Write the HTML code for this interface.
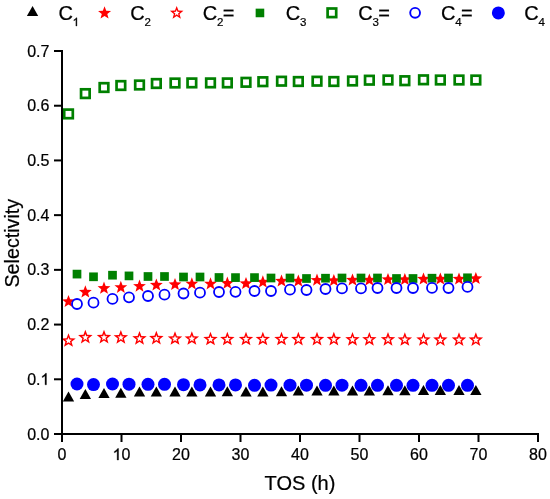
<!DOCTYPE html>
<html><head><meta charset="utf-8"><style>
html,body{margin:0;padding:0;background:#fff;}
body{width:550px;height:499px;overflow:hidden;}
svg{display:block;will-change:transform;}
text{font-family:"Liberation Sans",sans-serif;fill:#000;stroke:#000;stroke-width:0.22px;}
.tk{font-size:16px;}
.lb{font-size:20px;}
.lg{font-size:20px;}
.sb{font-size:12px;}
</style></head><body>
<svg width="550" height="499" viewBox="0 0 550 499">
<rect width="550" height="499" fill="#fff"/>
<polygon points="62.85,401.6 74.15,401.6 68.5,391.6" fill="#000000"/>
<polygon points="79.7,398.9 91,398.9 85.35,388.9" fill="#000000"/>
<polygon points="98.35,398 109.65,398 104,388" fill="#000000"/>
<polygon points="115.2,397.7 126.5,397.7 120.85,387.7" fill="#000000"/>
<polygon points="133.85,396.6 145.15,396.6 139.5,386.6" fill="#000000"/>
<polygon points="150.7,396.6 162,396.6 156.35,386.6" fill="#000000"/>
<polygon points="169.35,396.6 180.65,396.6 175,386.6" fill="#000000"/>
<polygon points="186.2,396.6 197.5,396.6 191.85,386.6" fill="#000000"/>
<polygon points="204.85,396.5 216.15,396.5 210.5,386.5" fill="#000000"/>
<polygon points="221.7,396.3 233,396.3 227.35,386.3" fill="#000000"/>
<polygon points="240.35,396.4 251.65,396.4 246,386.4" fill="#000000"/>
<polygon points="257.2,396.5 268.5,396.5 262.85,386.5" fill="#000000"/>
<polygon points="275.85,396.2 287.15,396.2 281.5,386.2" fill="#000000"/>
<polygon points="292.7,395.6 304,395.6 298.35,385.6" fill="#000000"/>
<polygon points="311.35,395.6 322.65,395.6 317,385.6" fill="#000000"/>
<polygon points="328.2,395.6 339.5,395.6 333.85,385.6" fill="#000000"/>
<polygon points="346.85,395.5 358.15,395.5 352.5,385.5" fill="#000000"/>
<polygon points="363.7,395.5 375,395.5 369.35,385.5" fill="#000000"/>
<polygon points="382.35,395.3 393.65,395.3 388,385.3" fill="#000000"/>
<polygon points="399.2,395.2 410.5,395.2 404.85,385.2" fill="#000000"/>
<polygon points="417.85,395 429.15,395 423.5,385" fill="#000000"/>
<polygon points="434.7,395 446,395 440.35,385" fill="#000000"/>
<polygon points="453.35,395 464.65,395 459,385" fill="#000000"/>
<polygon points="470.2,395 481.5,395 475.85,385" fill="#000000"/>
<polygon points="68.5,294.89 70.17,299.35 74.92,299.56 71.2,302.52 72.47,307.11 68.5,304.48 64.53,307.11 65.8,302.52 62.08,299.56 66.83,299.35" fill="#ff0000"/>
<polygon points="85.35,285.29 87.02,289.75 91.77,289.96 88.05,292.92 89.32,297.51 85.35,294.88 81.38,297.51 82.65,292.92 78.93,289.96 83.68,289.75" fill="#ff0000"/>
<polygon points="104,281.59 105.67,286.05 110.42,286.26 106.7,289.22 107.97,293.81 104,291.18 100.03,293.81 101.3,289.22 97.58,286.26 102.33,286.05" fill="#ff0000"/>
<polygon points="120.85,280.69 122.52,285.15 127.27,285.36 123.55,288.32 124.82,292.91 120.85,290.28 116.88,292.91 118.15,288.32 114.43,285.36 119.18,285.15" fill="#ff0000"/>
<polygon points="139.5,279.49 141.17,283.95 145.92,284.16 142.2,287.12 143.47,291.71 139.5,289.08 135.53,291.71 136.8,287.12 133.08,284.16 137.83,283.95" fill="#ff0000"/>
<polygon points="156.35,278.39 158.02,282.85 162.77,283.06 159.05,286.02 160.32,290.61 156.35,287.98 152.38,290.61 153.65,286.02 149.93,283.06 154.68,282.85" fill="#ff0000"/>
<polygon points="175,277.89 176.67,282.35 181.42,282.56 177.7,285.52 178.97,290.11 175,287.48 171.03,290.11 172.3,285.52 168.58,282.56 173.33,282.35" fill="#ff0000"/>
<polygon points="191.85,277.19 193.52,281.65 198.27,281.86 194.55,284.82 195.82,289.41 191.85,286.78 187.88,289.41 189.15,284.82 185.43,281.86 190.18,281.65" fill="#ff0000"/>
<polygon points="210.5,277.19 212.17,281.65 216.92,281.86 213.2,284.82 214.47,289.41 210.5,286.78 206.53,289.41 207.8,284.82 204.08,281.86 208.83,281.65" fill="#ff0000"/>
<polygon points="227.35,276.59 229.02,281.05 233.77,281.26 230.05,284.22 231.32,288.81 227.35,286.18 223.38,288.81 224.65,284.22 220.93,281.26 225.68,281.05" fill="#ff0000"/>
<polygon points="246,276.89 247.67,281.35 252.42,281.56 248.7,284.52 249.97,289.11 246,286.48 242.03,289.11 243.3,284.52 239.58,281.56 244.33,281.35" fill="#ff0000"/>
<polygon points="262.85,275.29 264.52,279.75 269.27,279.96 265.55,282.92 266.82,287.51 262.85,284.88 258.88,287.51 260.15,282.92 256.43,279.96 261.18,279.75" fill="#ff0000"/>
<polygon points="281.5,274.39 283.17,278.85 287.92,279.06 284.2,282.02 285.47,286.61 281.5,283.98 277.53,286.61 278.8,282.02 275.08,279.06 279.83,278.85" fill="#ff0000"/>
<polygon points="298.35,274.39 300.02,278.85 304.77,279.06 301.05,282.02 302.32,286.61 298.35,283.98 294.38,286.61 295.65,282.02 291.93,279.06 296.68,278.85" fill="#ff0000"/>
<polygon points="317,273.49 318.67,277.95 323.42,278.16 319.7,281.12 320.97,285.71 317,283.08 313.03,285.71 314.3,281.12 310.58,278.16 315.33,277.95" fill="#ff0000"/>
<polygon points="333.85,273.89 335.52,278.35 340.27,278.56 336.55,281.52 337.82,286.11 333.85,283.48 329.88,286.11 331.15,281.52 327.43,278.56 332.18,278.35" fill="#ff0000"/>
<polygon points="352.5,273.39 354.17,277.85 358.92,278.06 355.2,281.02 356.47,285.61 352.5,282.98 348.53,285.61 349.8,281.02 346.08,278.06 350.83,277.85" fill="#ff0000"/>
<polygon points="369.35,273.39 371.02,277.85 375.77,278.06 372.05,281.02 373.32,285.61 369.35,282.98 365.38,285.61 366.65,281.02 362.93,278.06 367.68,277.85" fill="#ff0000"/>
<polygon points="388,272.89 389.67,277.35 394.42,277.56 390.7,280.52 391.97,285.11 388,282.48 384.03,285.11 385.3,280.52 381.58,277.56 386.33,277.35" fill="#ff0000"/>
<polygon points="404.85,272.89 406.52,277.35 411.27,277.56 407.55,280.52 408.82,285.11 404.85,282.48 400.88,285.11 402.15,280.52 398.43,277.56 403.18,277.35" fill="#ff0000"/>
<polygon points="423.5,272.39 425.17,276.85 429.92,277.06 426.2,280.02 427.47,284.61 423.5,281.98 419.53,284.61 420.8,280.02 417.08,277.06 421.83,276.85" fill="#ff0000"/>
<polygon points="440.35,272.39 442.02,276.85 446.77,277.06 443.05,280.02 444.32,284.61 440.35,281.98 436.38,284.61 437.65,280.02 433.93,277.06 438.68,276.85" fill="#ff0000"/>
<polygon points="459,272.39 460.67,276.85 465.42,277.06 461.7,280.02 462.97,284.61 459,281.98 455.03,284.61 456.3,280.02 452.58,277.06 457.33,276.85" fill="#ff0000"/>
<polygon points="475.85,271.89 477.52,276.35 482.27,276.56 478.55,279.52 479.82,284.11 475.85,281.48 471.88,284.11 473.15,279.52 469.43,276.56 474.18,276.35" fill="#ff0000"/>
<path d="M68.5,333.13 L70.38,338.14 L75.73,338.38 L71.54,341.71 L72.97,346.87 L68.5,343.92 L64.03,346.87 L65.46,341.71 L61.27,338.38 L66.62,338.14ZM68.5,337.23 L69.36,339.54 L71.83,339.64 L69.9,341.18 L70.56,343.56 L68.5,342.2 L66.44,343.56 L67.1,341.18 L65.17,339.64 L67.64,339.54Z" fill="#ff0000" fill-rule="evenodd"/>
<path d="M85.35,329.83 L87.23,334.84 L92.58,335.08 L88.39,338.41 L89.82,343.57 L85.35,340.62 L80.88,343.57 L82.31,338.41 L78.12,335.08 L83.47,334.84ZM85.35,333.93 L86.21,336.24 L88.68,336.34 L86.75,337.88 L87.41,340.26 L85.35,338.9 L83.29,340.26 L83.95,337.88 L82.02,336.34 L84.49,336.24Z" fill="#ff0000" fill-rule="evenodd"/>
<path d="M104,329.83 L105.88,334.84 L111.23,335.08 L107.04,338.41 L108.47,343.57 L104,340.62 L99.53,343.57 L100.96,338.41 L96.77,335.08 L102.12,334.84ZM104,333.93 L104.86,336.24 L107.33,336.34 L105.4,337.88 L106.06,340.26 L104,338.9 L101.94,340.26 L102.6,337.88 L100.67,336.34 L103.14,336.24Z" fill="#ff0000" fill-rule="evenodd"/>
<path d="M120.85,330.03 L122.73,335.04 L128.08,335.28 L123.89,338.61 L125.32,343.77 L120.85,340.82 L116.38,343.77 L117.81,338.61 L113.62,335.28 L118.97,335.04ZM120.85,334.13 L121.71,336.44 L124.18,336.54 L122.25,338.08 L122.91,340.46 L120.85,339.1 L118.79,340.46 L119.45,338.08 L117.52,336.54 L119.99,336.44Z" fill="#ff0000" fill-rule="evenodd"/>
<path d="M139.5,331.03 L141.38,336.04 L146.73,336.28 L142.54,339.61 L143.97,344.77 L139.5,341.82 L135.03,344.77 L136.46,339.61 L132.27,336.28 L137.62,336.04ZM139.5,335.13 L140.36,337.44 L142.83,337.54 L140.9,339.08 L141.56,341.46 L139.5,340.1 L137.44,341.46 L138.1,339.08 L136.17,337.54 L138.64,337.44Z" fill="#ff0000" fill-rule="evenodd"/>
<path d="M156.35,330.83 L158.23,335.84 L163.58,336.08 L159.39,339.41 L160.82,344.57 L156.35,341.62 L151.88,344.57 L153.31,339.41 L149.12,336.08 L154.47,335.84ZM156.35,334.93 L157.21,337.24 L159.68,337.34 L157.75,338.88 L158.41,341.26 L156.35,339.9 L154.29,341.26 L154.95,338.88 L153.02,337.34 L155.49,337.24Z" fill="#ff0000" fill-rule="evenodd"/>
<path d="M175,331.13 L176.88,336.14 L182.23,336.38 L178.04,339.71 L179.47,344.87 L175,341.92 L170.53,344.87 L171.96,339.71 L167.77,336.38 L173.12,336.14ZM175,335.23 L175.86,337.54 L178.33,337.64 L176.4,339.18 L177.06,341.56 L175,340.2 L172.94,341.56 L173.6,339.18 L171.67,337.64 L174.14,337.54Z" fill="#ff0000" fill-rule="evenodd"/>
<path d="M191.85,331.13 L193.73,336.14 L199.08,336.38 L194.89,339.71 L196.32,344.87 L191.85,341.92 L187.38,344.87 L188.81,339.71 L184.62,336.38 L189.97,336.14ZM191.85,335.23 L192.71,337.54 L195.18,337.64 L193.25,339.18 L193.91,341.56 L191.85,340.2 L189.79,341.56 L190.45,339.18 L188.52,337.64 L190.99,337.54Z" fill="#ff0000" fill-rule="evenodd"/>
<path d="M210.5,331.63 L212.38,336.64 L217.73,336.88 L213.54,340.21 L214.97,345.37 L210.5,342.42 L206.03,345.37 L207.46,340.21 L203.27,336.88 L208.62,336.64ZM210.5,335.73 L211.36,338.04 L213.83,338.14 L211.9,339.68 L212.56,342.06 L210.5,340.7 L208.44,342.06 L209.1,339.68 L207.17,338.14 L209.64,338.04Z" fill="#ff0000" fill-rule="evenodd"/>
<path d="M227.35,331.63 L229.23,336.64 L234.58,336.88 L230.39,340.21 L231.82,345.37 L227.35,342.42 L222.88,345.37 L224.31,340.21 L220.12,336.88 L225.47,336.64ZM227.35,335.73 L228.21,338.04 L230.68,338.14 L228.75,339.68 L229.41,342.06 L227.35,340.7 L225.29,342.06 L225.95,339.68 L224.02,338.14 L226.49,338.04Z" fill="#ff0000" fill-rule="evenodd"/>
<path d="M246,331.63 L247.88,336.64 L253.23,336.88 L249.04,340.21 L250.47,345.37 L246,342.42 L241.53,345.37 L242.96,340.21 L238.77,336.88 L244.12,336.64ZM246,335.73 L246.86,338.04 L249.33,338.14 L247.4,339.68 L248.06,342.06 L246,340.7 L243.94,342.06 L244.6,339.68 L242.67,338.14 L245.14,338.04Z" fill="#ff0000" fill-rule="evenodd"/>
<path d="M262.85,331.63 L264.73,336.64 L270.08,336.88 L265.89,340.21 L267.32,345.37 L262.85,342.42 L258.38,345.37 L259.81,340.21 L255.62,336.88 L260.97,336.64ZM262.85,335.73 L263.71,338.04 L266.18,338.14 L264.25,339.68 L264.91,342.06 L262.85,340.7 L260.79,342.06 L261.45,339.68 L259.52,338.14 L261.99,338.04Z" fill="#ff0000" fill-rule="evenodd"/>
<path d="M281.5,331.63 L283.38,336.64 L288.73,336.88 L284.54,340.21 L285.97,345.37 L281.5,342.42 L277.03,345.37 L278.46,340.21 L274.27,336.88 L279.62,336.64ZM281.5,335.73 L282.36,338.04 L284.83,338.14 L282.9,339.68 L283.56,342.06 L281.5,340.7 L279.44,342.06 L280.1,339.68 L278.17,338.14 L280.64,338.04Z" fill="#ff0000" fill-rule="evenodd"/>
<path d="M298.35,331.83 L300.23,336.84 L305.58,337.08 L301.39,340.41 L302.82,345.57 L298.35,342.62 L293.88,345.57 L295.31,340.41 L291.12,337.08 L296.47,336.84ZM298.35,335.93 L299.21,338.24 L301.68,338.34 L299.75,339.88 L300.41,342.26 L298.35,340.9 L296.29,342.26 L296.95,339.88 L295.02,338.34 L297.49,338.24Z" fill="#ff0000" fill-rule="evenodd"/>
<path d="M317,331.83 L318.88,336.84 L324.23,337.08 L320.04,340.41 L321.47,345.57 L317,342.62 L312.53,345.57 L313.96,340.41 L309.77,337.08 L315.12,336.84ZM317,335.93 L317.86,338.24 L320.33,338.34 L318.4,339.88 L319.06,342.26 L317,340.9 L314.94,342.26 L315.6,339.88 L313.67,338.34 L316.14,338.24Z" fill="#ff0000" fill-rule="evenodd"/>
<path d="M333.85,331.83 L335.73,336.84 L341.08,337.08 L336.89,340.41 L338.32,345.57 L333.85,342.62 L329.38,345.57 L330.81,340.41 L326.62,337.08 L331.97,336.84ZM333.85,335.93 L334.71,338.24 L337.18,338.34 L335.25,339.88 L335.91,342.26 L333.85,340.9 L331.79,342.26 L332.45,339.88 L330.52,338.34 L332.99,338.24Z" fill="#ff0000" fill-rule="evenodd"/>
<path d="M352.5,331.93 L354.38,336.94 L359.73,337.18 L355.54,340.51 L356.97,345.67 L352.5,342.72 L348.03,345.67 L349.46,340.51 L345.27,337.18 L350.62,336.94ZM352.5,336.03 L353.36,338.34 L355.83,338.44 L353.9,339.98 L354.56,342.36 L352.5,341 L350.44,342.36 L351.1,339.98 L349.17,338.44 L351.64,338.34Z" fill="#ff0000" fill-rule="evenodd"/>
<path d="M369.35,331.93 L371.23,336.94 L376.58,337.18 L372.39,340.51 L373.82,345.67 L369.35,342.72 L364.88,345.67 L366.31,340.51 L362.12,337.18 L367.47,336.94ZM369.35,336.03 L370.21,338.34 L372.68,338.44 L370.75,339.98 L371.41,342.36 L369.35,341 L367.29,342.36 L367.95,339.98 L366.02,338.44 L368.49,338.34Z" fill="#ff0000" fill-rule="evenodd"/>
<path d="M388,332.03 L389.88,337.04 L395.23,337.28 L391.04,340.61 L392.47,345.77 L388,342.82 L383.53,345.77 L384.96,340.61 L380.77,337.28 L386.12,337.04ZM388,336.13 L388.86,338.44 L391.33,338.54 L389.4,340.08 L390.06,342.46 L388,341.1 L385.94,342.46 L386.6,340.08 L384.67,338.54 L387.14,338.44Z" fill="#ff0000" fill-rule="evenodd"/>
<path d="M404.85,332.13 L406.73,337.14 L412.08,337.38 L407.89,340.71 L409.32,345.87 L404.85,342.92 L400.38,345.87 L401.81,340.71 L397.62,337.38 L402.97,337.14ZM404.85,336.23 L405.71,338.54 L408.18,338.64 L406.25,340.18 L406.91,342.56 L404.85,341.2 L402.79,342.56 L403.45,340.18 L401.52,338.64 L403.99,338.54Z" fill="#ff0000" fill-rule="evenodd"/>
<path d="M423.5,332.13 L425.38,337.14 L430.73,337.38 L426.54,340.71 L427.97,345.87 L423.5,342.92 L419.03,345.87 L420.46,340.71 L416.27,337.38 L421.62,337.14ZM423.5,336.23 L424.36,338.54 L426.83,338.64 L424.9,340.18 L425.56,342.56 L423.5,341.2 L421.44,342.56 L422.1,340.18 L420.17,338.64 L422.64,338.54Z" fill="#ff0000" fill-rule="evenodd"/>
<path d="M440.35,332.33 L442.23,337.34 L447.58,337.58 L443.39,340.91 L444.82,346.07 L440.35,343.12 L435.88,346.07 L437.31,340.91 L433.12,337.58 L438.47,337.34ZM440.35,336.43 L441.21,338.74 L443.68,338.84 L441.75,340.38 L442.41,342.76 L440.35,341.4 L438.29,342.76 L438.95,340.38 L437.02,338.84 L439.49,338.74Z" fill="#ff0000" fill-rule="evenodd"/>
<path d="M459,332.33 L460.88,337.34 L466.23,337.58 L462.04,340.91 L463.47,346.07 L459,343.12 L454.53,346.07 L455.96,340.91 L451.77,337.58 L457.12,337.34ZM459,336.43 L459.86,338.74 L462.33,338.84 L460.4,340.38 L461.06,342.76 L459,341.4 L456.94,342.76 L457.6,340.38 L455.67,338.84 L458.14,338.74Z" fill="#ff0000" fill-rule="evenodd"/>
<path d="M475.85,332.33 L477.73,337.34 L483.08,337.58 L478.89,340.91 L480.32,346.07 L475.85,343.12 L471.38,346.07 L472.81,340.91 L468.62,337.58 L473.97,337.34ZM475.85,336.43 L476.71,338.74 L479.18,338.84 L477.25,340.38 L477.91,342.76 L475.85,341.4 L473.79,342.76 L474.45,340.38 L472.52,338.84 L474.99,338.74Z" fill="#ff0000" fill-rule="evenodd"/>
<rect x="72.65" y="269.75" width="8.7" height="8.7" fill="#008000"/>
<rect x="89.15" y="272.45" width="8.7" height="8.7" fill="#008000"/>
<rect x="108.15" y="270.85" width="8.7" height="8.7" fill="#008000"/>
<rect x="124.65" y="271.55" width="8.7" height="8.7" fill="#008000"/>
<rect x="143.65" y="272.15" width="8.7" height="8.7" fill="#008000"/>
<rect x="160.15" y="272.15" width="8.7" height="8.7" fill="#008000"/>
<rect x="179.15" y="272.65" width="8.7" height="8.7" fill="#008000"/>
<rect x="195.65" y="272.65" width="8.7" height="8.7" fill="#008000"/>
<rect x="214.65" y="273.15" width="8.7" height="8.7" fill="#008000"/>
<rect x="231.15" y="273.25" width="8.7" height="8.7" fill="#008000"/>
<rect x="250.15" y="273.25" width="8.7" height="8.7" fill="#008000"/>
<rect x="266.65" y="273.65" width="8.7" height="8.7" fill="#008000"/>
<rect x="285.65" y="273.65" width="8.7" height="8.7" fill="#008000"/>
<rect x="302.15" y="274.15" width="8.7" height="8.7" fill="#008000"/>
<rect x="321.15" y="273.85" width="8.7" height="8.7" fill="#008000"/>
<rect x="337.65" y="273.65" width="8.7" height="8.7" fill="#008000"/>
<rect x="356.65" y="273.65" width="8.7" height="8.7" fill="#008000"/>
<rect x="373.15" y="273.65" width="8.7" height="8.7" fill="#008000"/>
<rect x="392.15" y="274.15" width="8.7" height="8.7" fill="#008000"/>
<rect x="408.65" y="274.15" width="8.7" height="8.7" fill="#008000"/>
<rect x="427.65" y="273.85" width="8.7" height="8.7" fill="#008000"/>
<rect x="444.15" y="273.65" width="8.7" height="8.7" fill="#008000"/>
<rect x="463.15" y="273.45" width="8.7" height="8.7" fill="#008000"/>
<rect x="64.2" y="109.6" width="8.6" height="8.6" fill="none" stroke="#008000" stroke-width="2.7"/>
<rect x="81.05" y="89.3" width="8.6" height="8.6" fill="none" stroke="#008000" stroke-width="2.7"/>
<rect x="99.7" y="83.2" width="8.6" height="8.6" fill="none" stroke="#008000" stroke-width="2.7"/>
<rect x="116.55" y="81.2" width="8.6" height="8.6" fill="none" stroke="#008000" stroke-width="2.7"/>
<rect x="135.2" y="80.7" width="8.6" height="8.6" fill="none" stroke="#008000" stroke-width="2.7"/>
<rect x="152.05" y="79.2" width="8.6" height="8.6" fill="none" stroke="#008000" stroke-width="2.7"/>
<rect x="170.7" y="78.7" width="8.6" height="8.6" fill="none" stroke="#008000" stroke-width="2.7"/>
<rect x="187.55" y="78.6" width="8.6" height="8.6" fill="none" stroke="#008000" stroke-width="2.7"/>
<rect x="206.2" y="78.6" width="8.6" height="8.6" fill="none" stroke="#008000" stroke-width="2.7"/>
<rect x="223.05" y="78.6" width="8.6" height="8.6" fill="none" stroke="#008000" stroke-width="2.7"/>
<rect x="241.7" y="78" width="8.6" height="8.6" fill="none" stroke="#008000" stroke-width="2.7"/>
<rect x="258.55" y="77.4" width="8.6" height="8.6" fill="none" stroke="#008000" stroke-width="2.7"/>
<rect x="277.2" y="76.9" width="8.6" height="8.6" fill="none" stroke="#008000" stroke-width="2.7"/>
<rect x="294.05" y="77.2" width="8.6" height="8.6" fill="none" stroke="#008000" stroke-width="2.7"/>
<rect x="312.7" y="76.9" width="8.6" height="8.6" fill="none" stroke="#008000" stroke-width="2.7"/>
<rect x="329.55" y="77.2" width="8.6" height="8.6" fill="none" stroke="#008000" stroke-width="2.7"/>
<rect x="348.2" y="76.7" width="8.6" height="8.6" fill="none" stroke="#008000" stroke-width="2.7"/>
<rect x="365.05" y="75.9" width="8.6" height="8.6" fill="none" stroke="#008000" stroke-width="2.7"/>
<rect x="383.7" y="75.7" width="8.6" height="8.6" fill="none" stroke="#008000" stroke-width="2.7"/>
<rect x="400.55" y="76.4" width="8.6" height="8.6" fill="none" stroke="#008000" stroke-width="2.7"/>
<rect x="419.2" y="75.5" width="8.6" height="8.6" fill="none" stroke="#008000" stroke-width="2.7"/>
<rect x="436.05" y="75.7" width="8.6" height="8.6" fill="none" stroke="#008000" stroke-width="2.7"/>
<rect x="454.7" y="75.7" width="8.6" height="8.6" fill="none" stroke="#008000" stroke-width="2.7"/>
<rect x="471.55" y="75.7" width="8.6" height="8.6" fill="none" stroke="#008000" stroke-width="2.7"/>
<circle cx="77" cy="304" r="5" fill="none" stroke="#0000ff" stroke-width="1.8"/>
<circle cx="93.5" cy="302.7" r="5" fill="none" stroke="#0000ff" stroke-width="1.8"/>
<circle cx="112.5" cy="298.9" r="5" fill="none" stroke="#0000ff" stroke-width="1.8"/>
<circle cx="129" cy="297.3" r="5" fill="none" stroke="#0000ff" stroke-width="1.8"/>
<circle cx="148" cy="296" r="5" fill="none" stroke="#0000ff" stroke-width="1.8"/>
<circle cx="164.5" cy="294.7" r="5" fill="none" stroke="#0000ff" stroke-width="1.8"/>
<circle cx="183.5" cy="293.5" r="5" fill="none" stroke="#0000ff" stroke-width="1.8"/>
<circle cx="200" cy="292.7" r="5" fill="none" stroke="#0000ff" stroke-width="1.8"/>
<circle cx="219" cy="292" r="5" fill="none" stroke="#0000ff" stroke-width="1.8"/>
<circle cx="235.5" cy="291.8" r="5" fill="none" stroke="#0000ff" stroke-width="1.8"/>
<circle cx="254.5" cy="291" r="5" fill="none" stroke="#0000ff" stroke-width="1.8"/>
<circle cx="271" cy="291" r="5" fill="none" stroke="#0000ff" stroke-width="1.8"/>
<circle cx="290" cy="289.7" r="5" fill="none" stroke="#0000ff" stroke-width="1.8"/>
<circle cx="306.5" cy="290" r="5" fill="none" stroke="#0000ff" stroke-width="1.8"/>
<circle cx="325.5" cy="289" r="5" fill="none" stroke="#0000ff" stroke-width="1.8"/>
<circle cx="342" cy="288.4" r="5" fill="none" stroke="#0000ff" stroke-width="1.8"/>
<circle cx="361" cy="288.4" r="5" fill="none" stroke="#0000ff" stroke-width="1.8"/>
<circle cx="377.5" cy="288" r="5" fill="none" stroke="#0000ff" stroke-width="1.8"/>
<circle cx="396.5" cy="288" r="5" fill="none" stroke="#0000ff" stroke-width="1.8"/>
<circle cx="413" cy="288" r="5" fill="none" stroke="#0000ff" stroke-width="1.8"/>
<circle cx="432" cy="287.9" r="5" fill="none" stroke="#0000ff" stroke-width="1.8"/>
<circle cx="448.5" cy="288" r="5" fill="none" stroke="#0000ff" stroke-width="1.8"/>
<circle cx="467.5" cy="286.9" r="5" fill="none" stroke="#0000ff" stroke-width="1.8"/>
<circle cx="77" cy="384" r="6.5" fill="#0000ff"/>
<circle cx="93.5" cy="384.6" r="6.5" fill="#0000ff"/>
<circle cx="112.5" cy="384" r="6.5" fill="#0000ff"/>
<circle cx="129" cy="384.2" r="6.5" fill="#0000ff"/>
<circle cx="148" cy="384.3" r="6.5" fill="#0000ff"/>
<circle cx="164.5" cy="384.3" r="6.5" fill="#0000ff"/>
<circle cx="183.5" cy="384.7" r="6.5" fill="#0000ff"/>
<circle cx="200" cy="384.9" r="6.5" fill="#0000ff"/>
<circle cx="219" cy="384.9" r="6.5" fill="#0000ff"/>
<circle cx="235.5" cy="384.9" r="6.5" fill="#0000ff"/>
<circle cx="254.5" cy="385.3" r="6.5" fill="#0000ff"/>
<circle cx="271" cy="385.1" r="6.5" fill="#0000ff"/>
<circle cx="290" cy="385.2" r="6.5" fill="#0000ff"/>
<circle cx="306.5" cy="385.2" r="6.5" fill="#0000ff"/>
<circle cx="325.5" cy="385.3" r="6.5" fill="#0000ff"/>
<circle cx="342" cy="385.2" r="6.5" fill="#0000ff"/>
<circle cx="361" cy="385.3" r="6.5" fill="#0000ff"/>
<circle cx="377.5" cy="385.3" r="6.5" fill="#0000ff"/>
<circle cx="396.5" cy="385.3" r="6.5" fill="#0000ff"/>
<circle cx="413" cy="385.3" r="6.5" fill="#0000ff"/>
<circle cx="432" cy="385.3" r="6.5" fill="#0000ff"/>
<circle cx="448.5" cy="385.3" r="6.5" fill="#0000ff"/>
<circle cx="467.5" cy="385.3" r="6.5" fill="#0000ff"/>
<rect x="61" y="50" width="2" height="385" fill="#000"/>
<rect x="61" y="433" width="478" height="2" fill="#000"/>
<rect x="54" y="433" width="8" height="2" fill="#000"/>
<text x="27.16" y="439.5" style="font-size:16px">0.0</text>
<rect x="54" y="378.29" width="8" height="2" fill="#000"/>
<text x="27.16" y="384.79" style="font-size:16px">0.</text>
<path d="M763 0H583V1147Q518 1085 412.5 1023Q307 961 223 930V1104Q374 1175 487 1276Q600 1377 647 1472H763Z" transform="translate(40.5 384.79) scale(0.0078 -0.0078)" fill="#000" stroke="#000" stroke-width="0.35" vector-effect="non-scaling-stroke"/>
<rect x="54" y="323.57" width="8" height="2" fill="#000"/>
<text x="27.16" y="330.07" style="font-size:16px">0.2</text>
<rect x="54" y="268.86" width="8" height="2" fill="#000"/>
<text x="27.16" y="275.36" style="font-size:16px">0.3</text>
<rect x="54" y="214.14" width="8" height="2" fill="#000"/>
<text x="27.16" y="220.64" style="font-size:16px">0.4</text>
<rect x="54" y="159.43" width="8" height="2" fill="#000"/>
<text x="27.16" y="165.93" style="font-size:16px">0.5</text>
<rect x="54" y="104.72" width="8" height="2" fill="#000"/>
<text x="27.16" y="111.22" style="font-size:16px">0.6</text>
<rect x="54" y="50" width="8" height="2" fill="#000"/>
<text x="27.16" y="56.5" style="font-size:16px">0.7</text>
<rect x="61" y="434" width="2" height="8" fill="#000"/>
<text x="57.55" y="460" style="font-size:16px">0</text>
<rect x="120.5" y="434" width="2" height="8" fill="#000"/>
<path d="M763 0H583V1147Q518 1085 412.5 1023Q307 961 223 930V1104Q374 1175 487 1276Q600 1377 647 1472H763Z" transform="translate(112.6 460) scale(0.0078 -0.0078)" fill="#000" stroke="#000" stroke-width="0.35" vector-effect="non-scaling-stroke"/>
<text x="121.5" y="460" style="font-size:16px">0</text>
<rect x="180" y="434" width="2" height="8" fill="#000"/>
<text x="172.1" y="460" style="font-size:16px">20</text>
<rect x="239.5" y="434" width="2" height="8" fill="#000"/>
<text x="231.6" y="460" style="font-size:16px">30</text>
<rect x="299" y="434" width="2" height="8" fill="#000"/>
<text x="291.1" y="460" style="font-size:16px">40</text>
<rect x="358.5" y="434" width="2" height="8" fill="#000"/>
<text x="350.6" y="460" style="font-size:16px">50</text>
<rect x="418" y="434" width="2" height="8" fill="#000"/>
<text x="410.1" y="460" style="font-size:16px">60</text>
<rect x="477.5" y="434" width="2" height="8" fill="#000"/>
<text x="469.6" y="460" style="font-size:16px">70</text>
<rect x="537" y="434" width="2" height="8" fill="#000"/>
<text x="529.1" y="460" style="font-size:16px">80</text>
<text x="300" y="490" text-anchor="middle" class="lb">TOS (h)</text>
<text transform="translate(18.6,243.2) rotate(-90)" text-anchor="middle" class="lb" style="font-size:19.7px">Selectivity</text>
<polygon points="26.9,16 38.2,16 32.55,6" fill="#000000"/>
<polygon points="104.55,6.15 106.24,10.68 111.06,10.89 107.29,13.89 108.58,18.55 104.55,15.88 100.52,18.55 101.81,13.89 98.04,10.89 102.86,10.68" fill="#ff0000"/>
<path d="M176.7,5.88 L178.45,10.57 L183.45,10.78 L179.54,13.9 L180.87,18.72 L176.7,15.96 L172.53,18.72 L173.86,13.9 L169.95,10.78 L174.95,10.57ZM176.7,9.68 L177.51,11.86 L179.84,11.96 L178.02,13.41 L178.64,15.65 L176.7,14.36 L174.76,15.65 L175.38,13.41 L173.56,11.96 L175.89,11.86Z" fill="#ff0000" fill-rule="evenodd"/>
<rect x="255.65" y="8.65" width="8.6" height="8.6" fill="#008000"/>
<rect x="327.6" y="8.5" width="8.6" height="8.6" fill="none" stroke="#008000" stroke-width="2.7"/>
<circle cx="415.1" cy="12.8" r="4.9" fill="none" stroke="#0000ff" stroke-width="1.9"/>
<circle cx="498.35" cy="12.9" r="6.5" fill="#0000ff"/>
<text x="58.4" y="19.5" style="font-size:20px">C</text>
<path d="M763 0H583V1147Q518 1085 412.5 1023Q307 961 223 930V1104Q374 1175 487 1276Q600 1377 647 1472H763Z" transform="translate(72.64 26) scale(0.0056 -0.0056)" fill="#000" stroke="#000" stroke-width="0.35" vector-effect="non-scaling-stroke"/>
<text x="130.3" y="19.5" style="font-size:20px">C</text>
<text x="144.54" y="26" style="font-size:11.5px">2</text>
<text x="202.8" y="19.5" style="font-size:20px">C</text>
<text x="217.04" y="26" style="font-size:11.5px">2</text>
<text x="222.84" y="19.5" style="font-size:20px">=</text>
<text x="285.8" y="19.5" style="font-size:20px">C</text>
<text x="300.04" y="26" style="font-size:11.5px">3</text>
<text x="358.3" y="19.5" style="font-size:20px">C</text>
<text x="372.54" y="26" style="font-size:11.5px">3</text>
<text x="378.34" y="19.5" style="font-size:20px">=</text>
<text x="441" y="19.5" style="font-size:20px">C</text>
<text x="455.24" y="26" style="font-size:11.5px">4</text>
<text x="461.04" y="19.5" style="font-size:20px">=</text>
<text x="524.3" y="19.5" style="font-size:20px">C</text>
<text x="538.54" y="26" style="font-size:11.5px">4</text>
</svg>
</body></html>
